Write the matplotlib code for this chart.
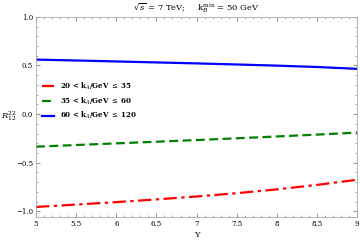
import numpy as np
import matplotlib
matplotlib.use("Agg")
import matplotlib.pyplot as plt
from matplotlib.ticker import MultipleLocator

Y = [5.0, 5.5, 6.0, 6.5, 7.0, 7.5, 8.0, 8.5, 9.0]
r_low = [-0.955, -0.93, -0.905, -0.877, -0.847, -0.813, -0.774, -0.728, -0.675]
r_mid = [-0.335, -0.318, -0.301, -0.284, -0.267, -0.249, -0.230, -0.211, -0.19]
r_high = [0.56, 0.551, 0.541, 0.531, 0.521, 0.51, 0.498, 0.484, 0.465]

plt.rcParams["font.family"] = ["DejaVu Serif"]
plt.rcParams["mathtext.fontset"] = "dejavuserif"

fig = plt.figure(figsize=(3.6, 2.4), dpi=100)
ax = fig.add_axes([0.1, 0.095, 0.892, 0.835])

ax.plot(Y, r_low, color="red", lw=1.6, dashes=(6, 2, 1.5, 2), label=r"20 < k$_A$/GeV $\leq$ 35")
ax.plot(Y, r_mid, color="green", lw=1.6, dashes=(4, 2), label=r"35 < k$_A$/GeV $\leq$ 60")
ax.plot(Y, r_high, color="blue", lw=1.6, label=r"60 < k$_A$/GeV $\leq$ 120")

ax.set_xlim(5, 9)
ax.set_ylim(-1.06, 1.0)
ax.xaxis.set_minor_locator(MultipleLocator(0.1))
ax.yaxis.set_minor_locator(MultipleLocator(0.1))
ax.set_xticks([5, 5.5, 6, 6.5, 7, 7.5, 8, 8.5, 9])
ax.set_xticklabels(["5", "5.5", "6", "6.5", "7", "7.5", "8", "8.5", "9"])
ax.set_yticks([-1.0, -0.5, 0.0, 0.5, 1.0])
ax.set_yticklabels(["\u22121.0", "\u22120.5", "0.0", "0.5", "1.0"])
ax.tick_params(which="both", direction="in", top=True, right=True, labelsize=5, color="#999999", pad=2)
ax.tick_params(which="major", length=3)
ax.tick_params(which="minor", length=1.5)
for s in ax.spines.values():
    s.set_color("#aaaaaa")
    s.set_linewidth(0.6)

ax.set_xlabel("Y", fontsize=6, labelpad=2)
ax.set_ylabel(r"$R_{12}^{22}$", fontsize=6, rotation=0, labelpad=6)
ax.yaxis.set_label_coords(-0.085, 0.47)
ax.set_title(r"$\sqrt{s}$ = 7 TeV;     k$_B^{\rm min}$ = 50 GeV", fontsize=6, pad=4)

leg = ax.legend(loc="center left", bbox_to_anchor=(0.0, 0.58), frameon=False,
                handlelength=1.7, handletextpad=0.8, labelspacing=0.5,
                prop={"weight": "semibold", "size": 5})

fig.savefig("out.png", dpi=100)
